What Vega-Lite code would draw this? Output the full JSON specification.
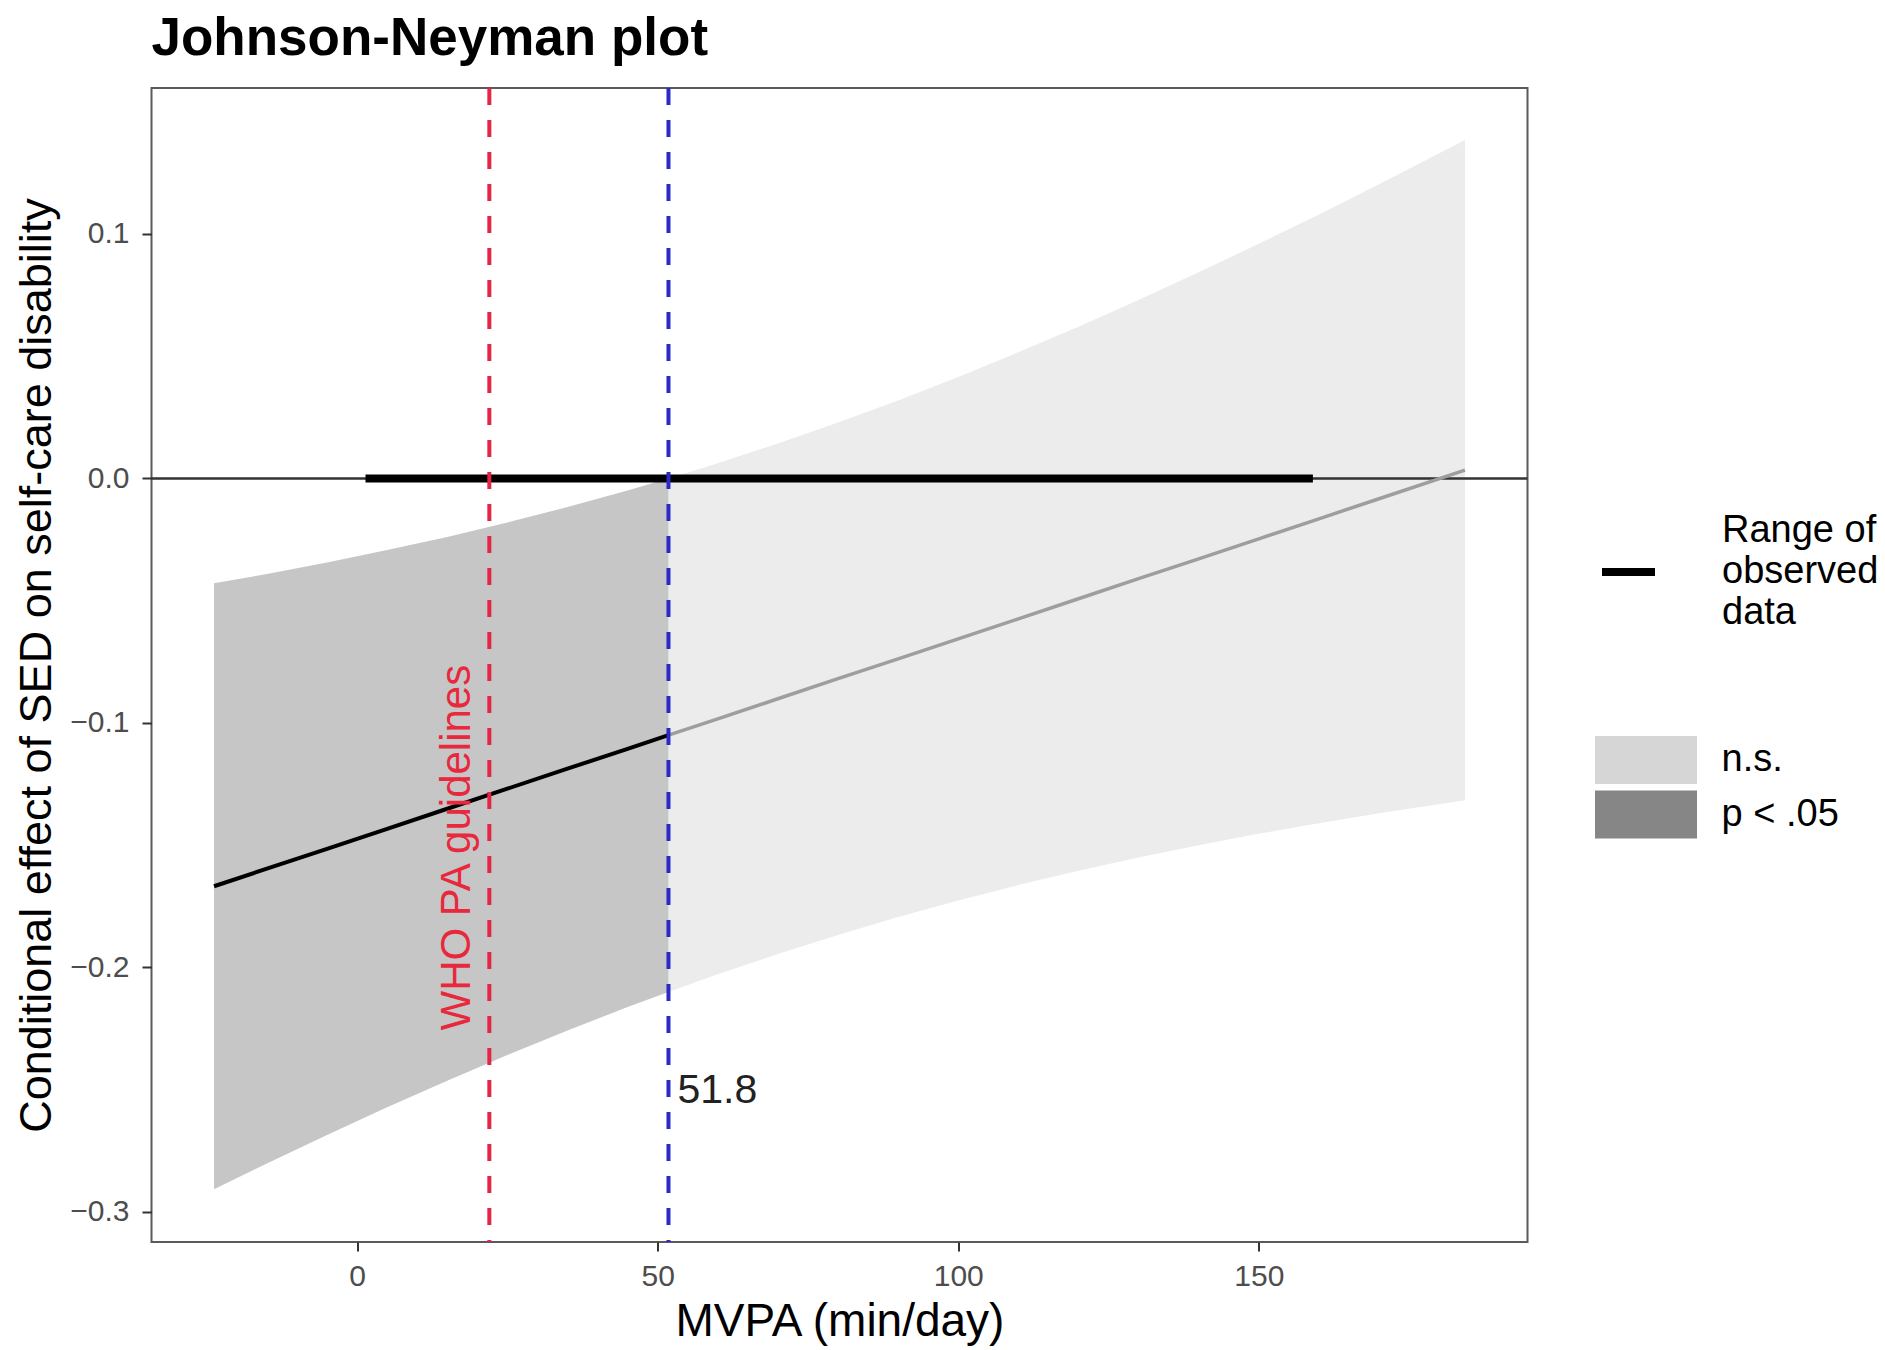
{
  "$schema": "https://vega.github.io/schema/vega-lite/v6.json",
  "width": 1376,
  "height": 1154,
  "autosize": {"type": "none"},
  "padding": {"left": 151.5, "top": 88, "right": 357.5, "bottom": 108},
  "background": "white",
  "title": {"text": "Johnson-Neyman plot", "anchor": "start", "frame": "group", "font": "Liberation Sans", "fontSize": 53, "fontWeight": "bold", "color": "black", "baseline": "alphabetic", "offset": -22},
  "config": {
    "view": {"stroke": "#5a5a5a", "strokeWidth": 2},
    "font": "Liberation Sans",
    "style": {"guide-label": {"lineHeight": 41}}
  },
  "datasets": {
    "band": [
      {"x": -23.8, "est": -0.1668, "lo": -0.2907, "hi": -0.0429, "grp": "p < .05"},
      {"x": -15, "est": -0.1596, "lo": -0.2802, "hi": -0.0391, "grp": "p < .05"},
      {"x": -5, "est": -0.1515, "lo": -0.2685, "hi": -0.0344, "grp": "p < .05"},
      {"x": 5, "est": -0.1433, "lo": -0.2572, "hi": -0.0293, "grp": "p < .05"},
      {"x": 15, "est": -0.1351, "lo": -0.2463, "hi": -0.0239, "grp": "p < .05"},
      {"x": 25, "est": -0.1269, "lo": -0.2358, "hi": -0.0180, "grp": "p < .05"},
      {"x": 35, "est": -0.1187, "lo": -0.2258, "hi": -0.0117, "grp": "p < .05"},
      {"x": 45, "est": -0.1106, "lo": -0.2162, "hi": -0.0049, "grp": "p < .05"},
      {"x": 51.8, "est": -0.1050, "lo": -0.2100, "hi": 0.0000, "grp": "p < .05"},
      {"x": 51.8, "est": -0.1050, "lo": -0.2100, "hi": 0.0000, "grp": "n.s."},
      {"x": 60, "est": -0.0983, "lo": -0.2028, "hi": 0.0062, "grp": "n.s."},
      {"x": 70, "est": -0.0901, "lo": -0.1945, "hi": 0.0143, "grp": "n.s."},
      {"x": 80, "est": -0.0819, "lo": -0.1867, "hi": 0.0229, "grp": "n.s."},
      {"x": 90, "est": -0.0738, "lo": -0.1794, "hi": 0.0319, "grp": "n.s."},
      {"x": 100, "est": -0.0656, "lo": -0.1726, "hi": 0.0415, "grp": "n.s."},
      {"x": 110, "est": -0.0574, "lo": -0.1663, "hi": 0.0516, "grp": "n.s."},
      {"x": 120, "est": -0.0492, "lo": -0.1605, "hi": 0.0620, "grp": "n.s."},
      {"x": 130, "est": -0.0410, "lo": -0.1550, "hi": 0.0730, "grp": "n.s."},
      {"x": 140, "est": -0.0329, "lo": -0.1500, "hi": 0.0843, "grp": "n.s."},
      {"x": 150, "est": -0.0247, "lo": -0.1453, "hi": 0.0960, "grp": "n.s."},
      {"x": 160, "est": -0.0165, "lo": -0.1410, "hi": 0.1080, "grp": "n.s."},
      {"x": 170, "est": -0.0083, "lo": -0.1369, "hi": 0.1203, "grp": "n.s."},
      {"x": 184.3, "est": 0.0034, "lo": -0.1316, "hi": 0.1384, "grp": "n.s."}
    ],
    "observed": [
      {"from": 1.4, "to": 159, "y": 0, "lab": "Range of observed data"}
    ]
  },
  "layer": [
    {
      "data": {"name": "band"},
      "mark": {"type": "area", "fillOpacity": 0.47},
      "encoding": {
        "x": {
          "field": "x", "type": "quantitative",
          "scale": {"domain": [-34.2, 194.7], "nice": false, "zero": false},
          "axis": {
            "title": "MVPA (min/day)", "values": [0, 50, 100, 150], "format": "d",
            "grid": false, "domain": false,
            "tickColor": "#333333", "tickSize": 9, "tickWidth": 2,
            "labelFont": "Liberation Sans", "labelFontSize": 30, "labelColor": "#4d4d4d", "labelPadding": 10.5,
            "titleFont": "Liberation Sans", "titleFontSize": 46, "titleFontWeight": "normal", "titleColor": "black",
            "minExtent": 48.5, "maxExtent": 48.5, "titlePadding": 8.5
          }
        },
        "y": {
          "field": "lo", "type": "quantitative",
          "scale": {"domain": [-0.3123, 0.1597], "nice": false, "zero": false},
          "axis": {
            "title": "Conditional effect of SED on self-care disability",
            "values": [-0.3, -0.2, -0.1, 0, 0.1],
            "format": ".1f",
            "grid": false, "domain": false,
            "tickColor": "#333333", "tickSize": 9.5, "tickWidth": 2,
            "labelFont": "Liberation Sans", "labelFontSize": 30, "labelColor": "#4d4d4d", "labelPadding": 13,
            "titleFont": "Liberation Sans", "titleFontSize": 45, "titleFontWeight": "normal", "titleColor": "black",
            "minExtent": 80, "maxExtent": 80, "titlePadding": 12
          }
        },
        "y2": {"field": "hi"},
        "fill": {
          "field": "grp", "type": "nominal",
          "scale": {"domain": ["n.s.", "p < .05"], "range": ["#d6d6d6", "#868686"]},
          "legend": {
            "orient": "none", "legendX": 1443.5, "legendY": 648, "title": null, "padding": 0,
            "symbolType": "M-2.125,-1H2.125V1H-2.125Z", "symbolSize": 2304, "symbolStrokeWidth": 0,
            "symbolOpacity": 1, "symbolFillOpacity": 1, "symbolOffset": 27, "rowPadding": 6.5,
            "labelFont": "Liberation Sans", "labelFontSize": 38, "labelColor": "black", "labelOffset": 51.5, "labelLimit": 400
          }
        }
      }
    },
    {
      "data": {"values": [{"y": 0}]},
      "mark": {"type": "rule", "color": "#333333", "strokeWidth": 2.5},
      "encoding": {"y": {"field": "y", "type": "quantitative"}}
    },
    {
      "data": {"name": "observed"},
      "mark": {"type": "rule", "strokeWidth": 8, "strokeCap": "butt"},
      "encoding": {
        "x": {"field": "from", "type": "quantitative"},
        "x2": {"field": "to"},
        "y": {"field": "y", "type": "quantitative"},
        "stroke": {
          "field": "lab", "type": "nominal",
          "scale": {"range": ["black"]},
          "legend": {
            "orient": "none", "legendX": 1450.5, "legendY": 412.6, "title": null, "padding": 0,
            "symbolType": "M-1,1.547L1,1.547", "symbolSize": 2809, "symbolStrokeWidth": 8, "symbolOffset": -4,
            "labelExpr": "['Range of', 'observed', 'data']",
            "labelFont": "Liberation Sans", "labelFontSize": 38, "labelColor": "black", "labelOffset": 63, "labelLimit": 400
          }
        }
      }
    },
    {
      "data": {"name": "band"},
      "transform": [{"filter": "datum.grp == 'n.s.'"}],
      "mark": {"type": "line", "color": "#9e9e9e", "strokeWidth": 3.5},
      "encoding": {
        "x": {"field": "x", "type": "quantitative"},
        "y": {"field": "est", "type": "quantitative"}
      }
    },
    {
      "data": {"name": "band"},
      "transform": [{"filter": "datum.grp == 'p < .05'"}],
      "mark": {"type": "line", "color": "black", "strokeWidth": 4},
      "encoding": {
        "x": {"field": "x", "type": "quantitative"},
        "y": {"field": "est", "type": "quantitative"}
      }
    },
    {
      "data": {"values": [{"x": 22}]},
      "mark": {"type": "rule", "color": "#e52545", "strokeWidth": 4, "strokeDash": [17, 15]},
      "encoding": {"x": {"field": "x", "type": "quantitative"}}
    },
    {
      "data": {"values": [{"x": 51.8}]},
      "mark": {"type": "rule", "color": "#2a2ac8", "strokeWidth": 4, "strokeDash": [17, 15]},
      "encoding": {"x": {"field": "x", "type": "quantitative"}}
    },
    {
      "data": {"values": [{"x": 16.6, "y": -0.151, "label": "WHO PA guidelines"}]},
      "mark": {"type": "text", "angle": 270, "align": "center", "baseline": "middle", "font": "Liberation Sans", "fontSize": 42, "color": "#e8283c"},
      "encoding": {
        "x": {"field": "x", "type": "quantitative"},
        "y": {"field": "y", "type": "quantitative"},
        "text": {"field": "label"}
      }
    },
    {
      "data": {"values": [{"x": 51.8, "y": -0.2507, "label": "51.8"}]},
      "mark": {"type": "text", "align": "left", "baseline": "middle", "dx": 9, "font": "Liberation Sans", "fontSize": 41, "color": "#222222"},
      "encoding": {
        "x": {"field": "x", "type": "quantitative"},
        "y": {"field": "y", "type": "quantitative"},
        "text": {"field": "label"}
      }
    }
  ]
}
